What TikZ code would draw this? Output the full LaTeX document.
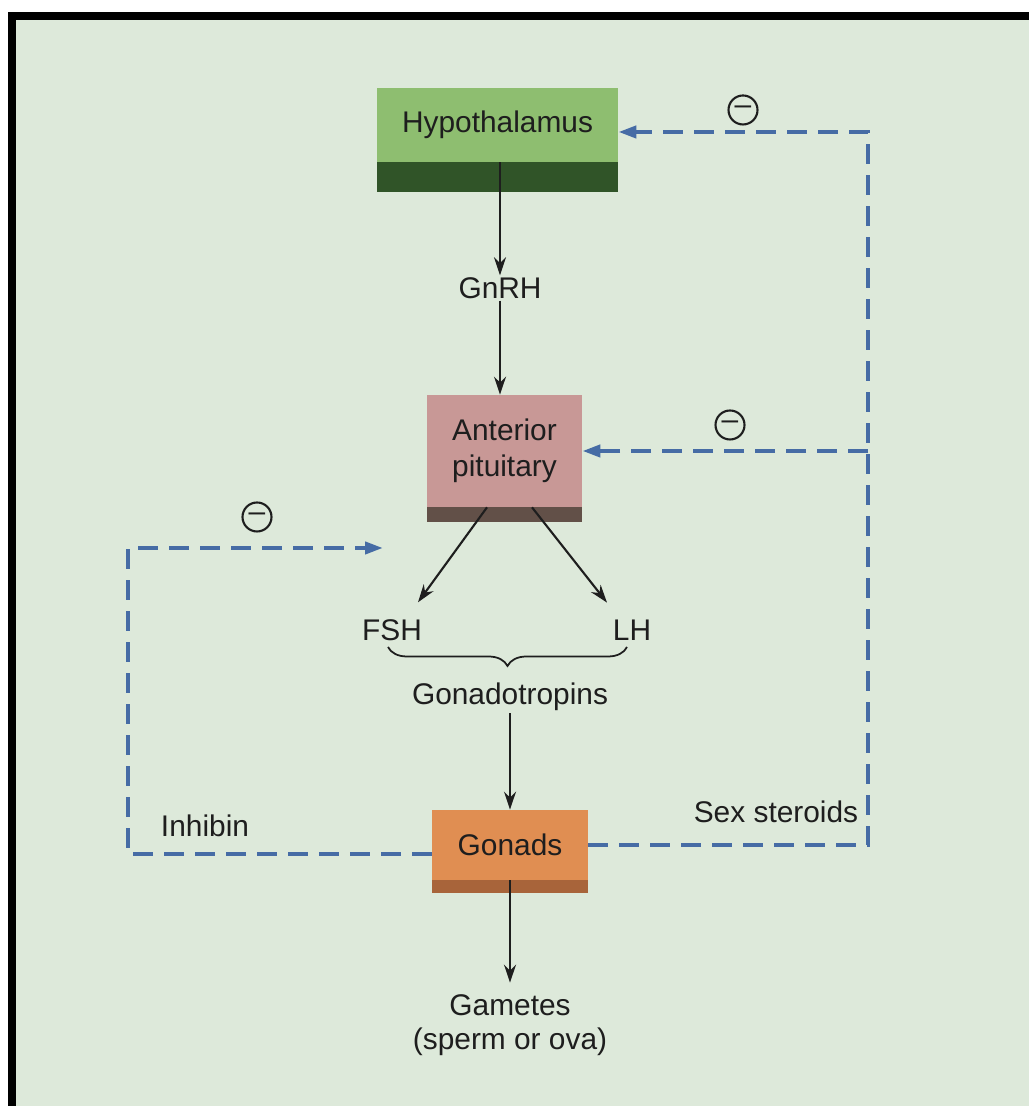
\documentclass[tikz,border=0pt]{standalone}
\usepackage{fontspec}
\setmainfont{Liberation Sans}
\usepackage{tikz}
\usetikzlibrary{shapes,arrows.meta,decorations.pathreplacing}
\definecolor{paper}{RGB}{221,233,218}
\definecolor{hypogreen}{RGB}{142,190,112}
\definecolor{hypodark}{RGB}{48,84,40}
\definecolor{pitpink}{RGB}{200,152,150}
\definecolor{pitdark}{RGB}{98,80,72}
\definecolor{gonorange}{RGB}{224,142,82}
\definecolor{gondark}{RGB}{168,100,58}
\definecolor{loopblue}{RGB}{70,108,165}
\definecolor{ink}{RGB}{30,30,30}
\tikzstyle{block} = [rectangle, text centered, align=center, inner sep=0pt,
    font=\fontsize{17}{20.5}\selectfont, text=ink]
\tikzstyle{txt} = [font=\fontsize{17}{19}\selectfont, text=ink, align=center, inner sep=1pt]
\tikzstyle{flow} = [draw=ink, line width=1.2pt, -{Stealth[length=0.36cm,width=0.24cm]}]
\tikzstyle{feedback} = [draw=loopblue, line width=2.3pt, dash pattern=on 0.4cm off 0.22cm,
    -{Triangle[length=0.36cm,width=0.24cm]}]
\tikzstyle{minuscirc} = [circle, draw=ink, line width=1.2pt, minimum size=0.58cm, inner sep=0pt,
    font=\fontsize{17}{19}\selectfont, text=ink]

\begin{document}
\begin{tikzpicture}
	% Page and frame
	\useasboundingbox (0,0) rectangle (20.58,22.12);
	\fill[black] (0.16,0) rectangle (20.58,21.88);
	\fill[paper] (0.32,0) rectangle (20.58,21.72);

	% Place nodes
	\node [block, fill=hypogreen, minimum width=4.82cm, minimum height=1.48cm] at (9.95,19.62) (hypo) {Hypothalamus};
	\fill[hypodark] (hypo.south west) rectangle ([yshift=-0.6cm]hypo.south east);

	\node [txt] at (10.0,16.36) (gnrh) {GnRH};

	\node [block, fill=pitpink, minimum width=3.1cm, minimum height=2.24cm] at (10.09,13.1) (pit) {Anterior\\pituitary};
	\fill[pitdark] (pit.south west) rectangle ([yshift=-0.3cm]pit.south east);

	\node [txt] at (7.84,9.52) (fsh) {FSH};
	\node [txt] at (12.64,9.52) (lh) {LH};
	\coordinate (bl) at (7.76,9.18);
	\coordinate (br) at (12.54,9.18);
	\node [txt] at (10.2,8.18) (gonado) {Gonadotropins};

	\node [block, fill=gonorange, minimum width=3.12cm, minimum height=1.4cm] at (10.2,5.22) (gon) {Gonads};
	\fill[gondark] (gon.south west) rectangle ([yshift=-0.26cm]gon.south east);

	\node [txt] at (10.2,1.62) (gam) {Gametes\\(sperm or ova)};

	\node [txt] at (4.1,5.6) (inh) {Inhibin};
	\node [txt] at (15.52,5.88) (sex) {Sex steroids};

	\node [minuscirc] at (14.86,19.92) (m1) {–};
	\node [minuscirc] at (14.6,13.62) (m2) {–};
	\node [minuscirc] at (5.14,11.78) (m3) {–};

	% Main pathway
	\draw[flow](hypo.south -| gnrh)--(gnrh);
	\draw[flow](gnrh)--(gnrh |- pit.north);
	\draw[flow]([xshift=-0.35cm]pit.south)--([xshift=0.52cm,yshift=0.3cm]fsh.north);
	\draw[flow]([xshift=0.55cm]pit.south)--([xshift=-0.5cm,yshift=0.3cm]lh.north);
	\draw[ink, line width=1pt, decorate, decoration={brace, mirror, amplitude=0.38cm}](bl)--(br);
	\draw[flow](gonado)--(gon);
	\draw[flow](gon.south)--([yshift=0.2cm]gam.north);

	% Feedback loops
	\coordinate (lbot) at (2.56,5.04);
	\coordinate (ltop) at (2.56,11.16);
	\coordinate (ltip) at (7.66,11.16);
	\draw[feedback](gon.west |- lbot)--(lbot)--(ltop)--(ltip);

	\coordinate (rtop) at (17.36,19.48);
	\coordinate (rjoin) at (17.36,13.1);
	\draw[feedback](gon.east)-|(rtop)--(rtop -| hypo.east);
	\draw[feedback](rjoin)--(pit.east);
\end{tikzpicture}
\end{document}
